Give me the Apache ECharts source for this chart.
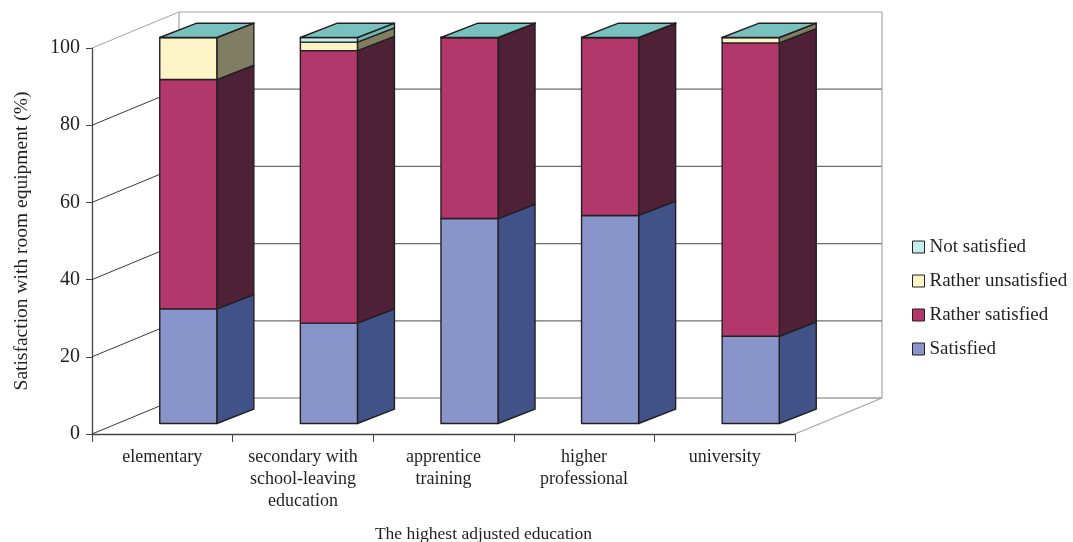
<!DOCTYPE html>
<html>
<head>
<meta charset="utf-8">
<script src="https://cdn.jsdelivr.net/npm/echarts@6/dist/echarts.min.js"></script>
<style>html,body{margin:0;padding:0;background:#fff}#c{width:1073px;height:542px}</style>
</head>
<body>
<div id="c"></div>
<script>
// ---- data ----
const categories = ['elementary', 'secondary with\nschool-leaving\neducation', 'apprentice\ntraining', 'higher\nprofessional', 'university'];
const satisfied = [29.7, 26.0, 53.1, 53.9, 22.6];
const ratherSatisfied = [59.4, 70.6, 46.9, 46.1, 76.0];
const ratherUnsatisfied = [10.9, 2.2, 0, 0, 1.4];
const notSatisfied = [0, 1.2, 0, 0, 0];
const yTicks = [0, 20, 40, 60, 80, 100];
const seriesNames = ['Satisfied', 'Rather satisfied', 'Rather unsatisfied', 'Not satisfied'];

// ---- style ----
const FONT = 'Liberation Serif';
const TXT = '#231f20';
const DX = 87, DY = 36;          // full depth of the 3D box (px)
const OFX = 26, OFY = 10.5;      // bar front face offset from front plane
const BDX = 37, BDY = 14.3;      // bar depth
const faces = [
  {front: '#8795ca', side: '#415289'},
  {front: '#b2386c', side: '#4f2137'},
  {front: '#faf4c6', side: '#7f7e62'},
  {front: '#c6ecee', side: '#6fb7b4'}
];
const TOPC = '#79c1be';
const EDGE = '#231f20';

const levels = [satisfied, ratherSatisfied, ratherUnsatisfied, notSatisfied];

function stackData(k) {
  return categories.map((c, i) => {
    let base = 0;
    for (let j = 0; j < k; j++) base += levels[j][i];
    return [i, base, base + levels[k][i]];
  });
}

function barRender(k) {
  const isTop = k === levels.length - 1;
  return function (params, api) {
    const i = api.value(0), b = api.value(1), t = api.value(2);
    const p0 = api.coord([i, b]);
    const p1 = api.coord([i, t]);
    const bw = api.size([1, 0])[0] * 0.406;
    const x = p0[0] + OFX - bw / 2;
    const yb = p0[1] - OFY, yt = p1[1] - OFY;
    const st = {stroke: EDGE, lineWidth: 1.4, lineJoin: 'round'};
    const children = [
      {type: 'polygon', shape: {points: [[x + bw, yb], [x + bw + BDX, yb - BDY], [x + bw + BDX, yt - BDY], [x + bw, yt]]},
        style: Object.assign({fill: faces[k].side}, st)},
      {type: 'rect', shape: {x: x, y: yt, width: bw, height: yb - yt},
        style: Object.assign({fill: faces[k].front}, st)}
    ];
    if (isTop) {
      children.push({type: 'polygon', shape: {points: [[x, yt], [x + BDX, yt - BDY], [x + bw + BDX, yt - BDY], [x + bw, yt]]},
        style: Object.assign({fill: TOPC}, st)});
    }
    return {type: 'group', children: children};
  };
}

function wallRender(params, api) {
  const cs = params.coordSys;
  const L = cs.x, R = cs.x + cs.width;
  const children = [];
  const grid = '#6e6e6e', diag = '#3a3a3a', frame = '#a3a3a3';
  yTicks.forEach((v, idx) => {
    const y = api.coord([0, v])[1];
    const last = idx === yTicks.length - 1;
    children.push({type: 'line', shape: {x1: L + DX, y1: y - DY, x2: R + DX, y2: y - DY},
      style: {stroke: last ? frame : grid, lineWidth: 1.2}});
    children.push({type: 'line', shape: {x1: L, y1: y, x2: L + DX, y2: y - DY},
      style: {stroke: last ? frame : diag, lineWidth: 1}});
  });
  const y0 = api.coord([0, 0])[1], y100 = api.coord([0, 100])[1];
  children.push({type: 'line', shape: {x1: L + DX, y1: y0 - DY, x2: L + DX, y2: y100 - DY}, style: {stroke: frame, lineWidth: 1.2}});
  children.push({type: 'line', shape: {x1: R + DX, y1: y0 - DY, x2: R + DX, y2: y100 - DY}, style: {stroke: frame, lineWidth: 1.2}});
  children.push({type: 'line', shape: {x1: R, y1: y0, x2: R + DX, y2: y0 - DY}, style: {stroke: frame, lineWidth: 1.2}});
  return {type: 'group', children: children};
}

const series = [{
  type: 'custom', name: 'walls', silent: true, clip: false, z: 1,
  data: [[0, 0]], renderItem: wallRender
}];
levels.forEach((arr, k) => {
  series.push({
    type: 'custom', name: seriesNames[k], clip: false, z: 3,
    itemStyle: {color: faces[k].front, borderColor: EDGE, borderWidth: 1},
    encode: {x: 0, y: 2},
    data: stackData(k),
    renderItem: barRender(k)
  });
});

const chart = echarts.init(document.getElementById('c'), null, {renderer: 'canvas'});
chart.setOption({
  animation: false,
  backgroundColor: '#fff',
  grid: {left: 92, right: 278, top: 48, bottom: 108, outerBoundsMode: 'none', containLabel: false},
  legend: {
    orient: 'vertical', left: 907, top: 232,
    data: ['Not satisfied', 'Rather unsatisfied', 'Rather satisfied', 'Satisfied'],
    icon: 'rect', itemWidth: 12, itemHeight: 12, itemGap: 14,
    itemStyle: {borderColor: EDGE, borderWidth: 1},
    textStyle: {fontFamily: FONT, fontSize: 19, color: TXT, lineHeight: 20},
    selectedMode: false
  },
  xAxis: {
    type: 'category', data: categories,
    axisLine: {lineStyle: {color: '#444', width: 1.3}},
    axisTick: {show: true, length: 8, lineStyle: {color: '#444'}},
    axisLabel: {fontFamily: FONT, fontSize: 18, color: TXT, lineHeight: 22, margin: 12, interval: 0},
    name: 'The highest adjusted education', nameLocation: 'middle', nameGap: 91,
    nameTextStyle: {fontFamily: FONT, fontSize: 17.5, color: TXT, padding: [0, 0, 0, 80]}
  },
  yAxis: {
    type: 'value', min: 0, max: 100, interval: 20,
    axisLine: {show: true, lineStyle: {color: '#444', width: 1.3}},
    axisTick: {show: true, length: 6, lineStyle: {color: '#444'}},
    splitLine: {show: false},
    axisLabel: {fontFamily: FONT, fontSize: 20, color: TXT, margin: 12},
    name: 'Satisfaction with room equipment (%)', nameLocation: 'middle', nameGap: 60,
    nameTextStyle: {fontFamily: FONT, fontSize: 19.5, color: TXT}
  },
  series: series
});
</script>
</body>
</html>
